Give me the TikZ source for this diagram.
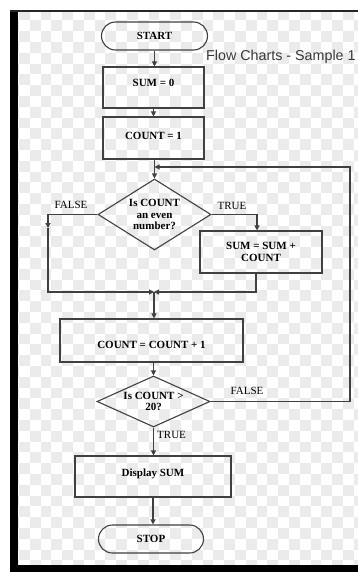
\documentclass[tikz,border=0pt]{standalone}
\usepackage{fontspec}
\setmainfont{Liberation Serif}
\newfontfamily\sansf{Liberation Sans}
\usetikzlibrary{shapes.geometric,shapes.misc,arrows.meta,calc}
\definecolor{lncol}{HTML}{404040}
\definecolor{chk}{HTML}{EBEBEB}
\begin{document}
\begin{tikzpicture}[x=1pt,y=-1pt,
  box/.style={draw=lncol,line width=1.1pt,rectangle,inner sep=0pt,font=\fontsize{11}{11.5}\selectfont\bfseries,align=center},
  term/.style={box,rounded rectangle},
  dec/.style={box,diamond,shape aspect=1.6},
  arr/.style={draw=lncol,line width=1.1pt,-{Triangle[length=5pt,width=5pt]}},
  lab/.style={font=\fontsize{11}{12}\selectfont,inner sep=0pt}]
\useasboundingbox (0,0) rectangle (358,572);
\fill[white] (0,0) rectangle (358,572);
\begin{scope}
\clip (17.5,12) rectangle (358,565);
\foreach \i in {0,...,32} {
  \foreach \j in {0,...,52} {
    \pgfmathparse{int(mod(\i+\j,2))}
    \ifnum\pgfmathresult=0
      \fill[chk] ({8.1+10.8*\i},{-1.2+10.8*\j}) rectangle +(10.8,10.8);
    \fi
  }
}
\end{scope}
\fill[black] (10,10) rectangle (17.5,572);
\fill[black] (10,565) rectangle (358,572);
\fill[black!85] (10,10) rectangle (358,12);

\node[term,minimum width=106pt,minimum height=28pt] (start) at (154.5,36) {START};
\node[box,minimum width=101pt,minimum height=41pt,text height=7.5pt,text depth=9.5pt] (sum0) at (153.5,87.5) {SUM = 0};
\node[box,minimum width=101pt,minimum height=42pt,text height=7.5pt,text depth=5pt] (cnt1) at (153.5,138) {COUNT = 1};
\node[dec,minimum width=113pt,minimum height=71pt] (d1) at (154.5,214.5) {Is COUNT\\an even\\number?};
\node[box,minimum width=122pt,minimum height=42pt] (sumb) at (261,252) {SUM = SUM +\\COUNT};
\node[box,minimum width=183pt,minimum height=43pt,text height=16.5pt,text depth=0pt] (inc) at (151.5,340.5) {COUNT = COUNT + 1};
\node[dec,minimum width=113pt,minimum height=51pt,shape aspect=2.2] (d2) at (153.5,401.5) {Is COUNT >\\20?};
\node[box,minimum width=156pt,minimum height=41pt,text height=7.5pt,text depth=7pt] (disp) at (153,476.5) {Display SUM};
\node[term,minimum width=105pt,minimum height=28pt] (stop) at (151,539) {STOP};

\node[anchor=west,font=\sansf\fontsize{14.3}{16}\selectfont,text=black!78,inner sep=0pt] (title) at (206,57) {Flow Charts - Sample 1};

\node[lab] (lf) at (71,205) {FALSE};
\node[lab] (lt) at (232,206) {TRUE};
\node[lab] (lf2) at (247,391) {FALSE};
\node[lab,anchor=west] (lt2) at (157,435) {TRUE};

\coordinate (merge) at (154,292);
\coordinate (fl) at (48,228);
\coordinate (lc) at (350,167);
\coordinate (lj) at (154.5,167);

\draw[arr] (start.south) -- (start.south |- sum0.north);
\draw[arr] (sum0.south) -- (sum0.south |- cnt1.north);
\draw[arr] (d1.north |- cnt1.south) -- (d1.north);
\draw[arr] (d1.east) -| ([xshift=-4pt]sumb.north);
\draw[arr] (d1.west) -| (fl);
\draw[arr] (fl) |- (merge);
\draw[arr] ([xshift=-5pt]sumb.south) |- (merge);
\draw[arr] (merge) -- (merge |- inc.north);
\draw[arr] (d2.north |- inc.south) -- (d2.north);
\draw[arr] (d2.east) -| (lc) -- (lj);
\draw[arr] (d2.south) -- (d2.south |- disp.north);
\draw[arr] (disp.south) -- (disp.south |- stop.north);
\end{tikzpicture}
\end{document}
